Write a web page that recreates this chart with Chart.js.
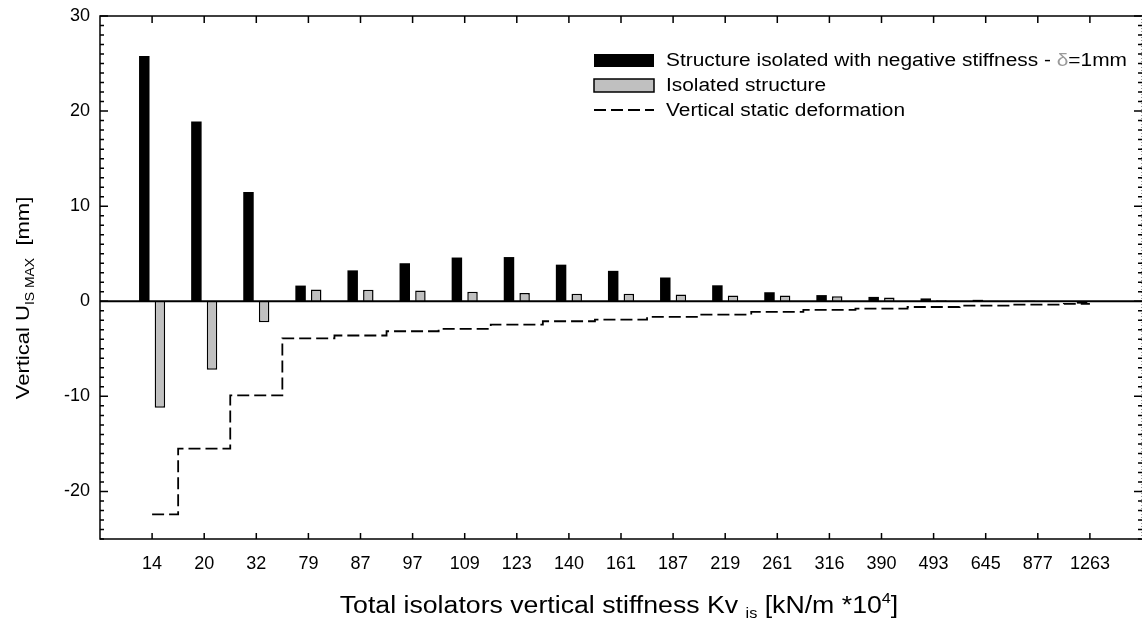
<!DOCTYPE html>
<html>
<head>
<meta charset="utf-8">
<script src="https://cdn.jsdelivr.net/npm/chart.js@4/dist/chart.umd.min.js"></script>
<style>html,body{margin:0;background:#fff}</style>
</head>
<body>
<canvas id="grafica" width="1143" height="624"></canvas>
<script>
const categorias = ['14', '20', '32', '79', '87', '97', '109', '123', '140', '161', '187', '219', '261', '316', '390', '493', '645', '877', '1263'];
const rigidezNegativa = [25.8, 18.9, 11.5, 1.65, 3.25, 4.0, 4.6, 4.65, 3.85, 3.2, 2.5, 1.68, 0.95, 0.65, 0.46, 0.3, 0.15, 0.05, -0.25];
const aislada = [-11.2, -7.2, -2.2, 1.23, 1.2, 1.12, 1.0, 0.88, 0.8, 0.78, 0.7, 0.6, 0.6, 0.53, 0.4, 0.1, 0.05, 0.03, 0];
const deformacionEstatica = [-22.4, -15.5, -9.9, -3.9, -3.6, -3.15, -2.9, -2.45, -2.1, -1.93, -1.65, -1.4, -1.12, -0.9, -0.77, -0.6, -0.45, -0.35, -0.28];
const ticksY = [-20, -10, 0, 10, 20, 30];

const FUENTE = '"Liberation Sans", Arial, sans-serif';
const ESTIRA = 1.16; // el texto del original esta algo ensanchado
const aPuntos = arr => arr.map((v, i) => ({ x: i + 1, y: v }));

// dibuja trozos de texto [texto, tamaño, desplazamiento, color] centrados en cx
function textoPartes(ctx, partes, cx, cy) {
  let ancho = 0;
  partes.forEach(p => { ctx.font = p[1] + 'px ' + FUENTE; ancho += ctx.measureText(p[0]).width; });
  ctx.save();
  ctx.translate(cx, cy);
  ctx.scale(ESTIRA, 1);
  let x = -ancho / 2;
  partes.forEach(p => {
    ctx.font = p[1] + 'px ' + FUENTE;
    ctx.fillStyle = p[3] || '#000';
    ctx.fillText(p[0], x, p[2]);
    x += ctx.measureText(p[0]).width;
  });
  ctx.restore();
}

// marco, ticks hacia dentro, linea del cero, titulos y leyenda
const marco = {
  id: 'marco',
  afterDatasetsDraw(chart) {
    const { ctx, chartArea: a, scales: { x, y } } = chart;
    ctx.save();
    ctx.strokeStyle = '#000';

    // linea del cero
    ctx.lineWidth = 2;
    const y0 = y.getPixelForValue(0);
    ctx.beginPath(); ctx.moveTo(a.left, y0); ctx.lineTo(a.right, y0); ctx.stroke();

    // marco
    ctx.lineWidth = 1.5;
    ctx.beginPath();
    ctx.moveTo(a.right, a.top); ctx.lineTo(a.left, a.top); ctx.lineTo(a.left, a.bottom); ctx.lineTo(a.right, a.bottom);
    ctx.stroke();
    ctx.strokeStyle = '#999';
    ctx.lineWidth = 1;
    ctx.setLineDash([1, 2]);
    ctx.beginPath(); ctx.moveTo(a.right - 0.5, a.top); ctx.lineTo(a.right - 0.5, a.bottom); ctx.stroke();
    ctx.setLineDash([]);

    // ticks eje y (menores cada 1, mayores cada 10)
    ctx.strokeStyle = '#000';
    ctx.lineWidth = 1.5;
    for (let v = -25; v <= 30; v++) {
      const py = y.getPixelForValue(v);
      const len = v % 10 === 0 ? 8 : 4;
      ctx.beginPath();
      ctx.moveTo(a.left, py); ctx.lineTo(a.left + len, py);
      ctx.moveTo(a.right, py); ctx.lineTo(a.right - len, py);
      ctx.stroke();
    }
    // ticks eje x
    categorias.forEach((c, i) => {
      const px = x.getPixelForValue(i + 1);
      ctx.beginPath();
      ctx.moveTo(px, a.bottom); ctx.lineTo(px, a.bottom - 6);
      ctx.moveTo(px, a.top); ctx.lineTo(px, a.top + 7);
      ctx.stroke();
    });

    ctx.textBaseline = 'alphabetic';
    // titulo eje y
    ctx.save();
    ctx.translate(29, 298);
    ctx.rotate(-Math.PI / 2);
    textoPartes(ctx, [['Vertical U', 19, 0], ['IS MAX', 12, 5], ['  [mm]', 19, 0]], 0, 0);
    ctx.restore();

    // titulo eje x
    textoPartes(ctx, [['Total isolators vertical stiffness Kv ', 23, 0], ['is', 14, 5], [' [kN/m *10', 23, 0], ['4', 14, -10], [']', 23, 0]], 619, 613);

    // leyenda
    const ds = chart.data.datasets;
    const lx = 594, filas = [60, 85, 110];
    ctx.textBaseline = 'middle';
    ds.forEach((d, i) => {
      const ly = filas[i];
      if (d.type === 'line') {
        ctx.strokeStyle = d.borderColor;
        ctx.lineWidth = d.borderWidth;
        ctx.setLineDash(d.borderDash);
        ctx.beginPath(); ctx.moveTo(lx, ly); ctx.lineTo(lx + 60, ly); ctx.stroke();
        ctx.setLineDash([]);
      } else {
        ctx.fillStyle = d.backgroundColor;
        ctx.fillRect(lx, ly - 6, 60, 13);
        if (d.borderWidth) {
          ctx.strokeStyle = d.borderColor;
          ctx.lineWidth = d.borderWidth;
          ctx.strokeRect(lx, ly - 6, 60, 13);
        }
      }
      ctx.save();
      ctx.translate(lx + 72, ly + 1);
      ctx.scale(ESTIRA, 1);
      ctx.font = '18px ' + FUENTE;
      let tx = 0;
      d.label.split(/(δ)/).forEach(t => {
        ctx.fillStyle = t === 'δ' ? '#9a9a9a' : '#000';
        ctx.fillText(t, tx, 0);
        tx += ctx.measureText(t).width;
      });
      ctx.restore();
    });
    ctx.restore();
  }
};

new Chart(document.getElementById('grafica'), {
  type: 'bar',
  data: {
    datasets: [{
      label: 'Structure isolated with negative stiffness - δ=1mm',
      data: aPuntos(rigidezNegativa),
      backgroundColor: '#000',
      borderWidth: 0,
      categoryPercentage: 0.6,
      barPercentage: 0.67,
      order: 2
    }, {
      label: 'Isolated structure',
      data: aPuntos(aislada),
      backgroundColor: '#c0c0c0',
      borderColor: '#000',
      borderWidth: 1.5,
      categoryPercentage: 0.6,
      barPercentage: 0.67,
      order: 2
    }, {
      type: 'line',
      label: 'Vertical static deformation',
      data: aPuntos(deformacionEstatica),
      borderColor: '#000',
      borderWidth: 1.8,
      borderDash: [12, 5],
      stepped: 'middle',
      pointRadius: 0,
      fill: false,
      order: 1
    }]
  },
  options: {
    responsive: false,
    animation: false,
    devicePixelRatio: 1,
    layout: { padding: { left: 0, right: 1, top: 16, bottom: 0 } },
    plugins: { legend: { display: false }, tooltip: { enabled: false } },
    scales: {
      x: {
        type: 'linear',
        min: 0,
        max: 20,
        offset: false,
        grid: { display: false },
        border: { display: false },
        afterBuildTicks: s => { s.ticks = categorias.map((c, i) => ({ value: i + 1 })); },
        afterFit: s => { s.height = 85; },
        ticks: {
          autoSkip: false,
          maxRotation: 0,
          padding: 6,
          color: '#000',
          font: { family: FUENTE, size: 18 },
          callback: v => categorias[v - 1]
        }
      },
      y: {
        min: -25,
        max: 30,
        grid: { display: false },
        border: { display: false },
        afterBuildTicks: s => { s.ticks = ticksY.map(v => ({ value: v })); },
        afterFit: s => { s.width = 100; },
        ticks: {
          padding: 2,
          color: '#000',
          font: { family: FUENTE, size: 18 }
        }
      }
    }
  },
  plugins: [marco]
});
</script>
</body>
</html>
